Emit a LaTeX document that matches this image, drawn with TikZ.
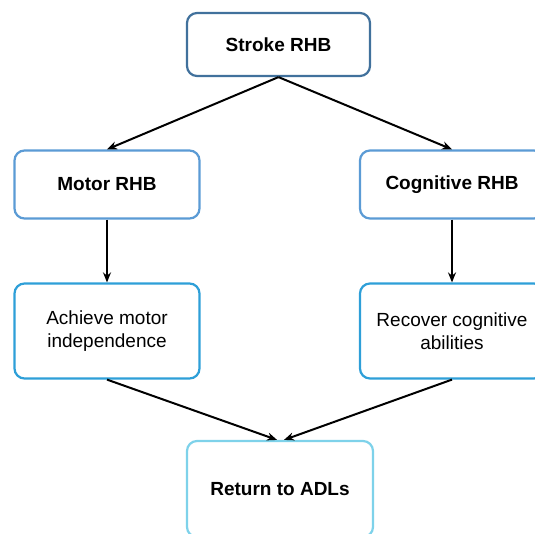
\documentclass[tikz,border=0pt]{standalone}
\usepackage{fontspec}
\setmainfont{Liberation Sans}
\usetikzlibrary{arrows.meta}
\definecolor{cTop}{HTML}{41719C}
\definecolor{cMid}{HTML}{5B9BD5}
\definecolor{cLow}{HTML}{2E9FD8}
\definecolor{cBot}{HTML}{7ED2EA}
\tikzset{
  box/.style={draw, line width=2.2pt, rounded corners=10pt, fill=white, align=center, font=\fontsize{19}{23}\selectfont, inner sep=0pt},
  bbox/.style={box, font=\bfseries\fontsize{19}{23}\selectfont},
  conn/.style={-{Stealth[length=10pt,width=8pt]}, line width=2pt, black}
}
\begin{document}
\begin{tikzpicture}[x=1pt,y=-1pt]
\useasboundingbox (0,0) rectangle (535,534);
\clip (0,0) rectangle (535,534);
\node[bbox, draw=cTop, minimum width=183pt, minimum height=63pt] (top) at (278.5,44.5) {Stroke RHB};
\node[bbox, draw=cMid, minimum width=185pt, minimum height=68pt] (motor) at (107,184.5) {Motor RHB};
\node[bbox, draw=cMid, minimum width=184pt, minimum height=68pt] (cog) at (452,184.5) {Cognitive RHB};
\node[box, draw=cLow, minimum width=185pt, minimum height=95pt] (ach) at (107,331) {Achieve motor\\independence};
\node[box, draw=cLow, minimum width=184pt, minimum height=95pt] (rec) at (452,331) {Recover cognitive\\abilities};
\node[bbox, draw=cBot, minimum width=186pt, minimum height=96pt] (ret) at (280,489) {Return to ADLs};
\coordinate (rl) at ([xshift=-3pt]ret.north);
\coordinate (rr) at ([xshift=4pt]ret.north);
\draw[conn] (top.south) -- (motor.north);
\draw[conn] (top.south) -- (cog.north);
\draw[conn] (motor.south) -- (ach.north);
\draw[conn] (cog.south) -- (rec.north);
\draw[conn] (ach.south) -- (rl);
\draw[conn] (rec.south) -- (rr);
\end{tikzpicture}
\end{document}
